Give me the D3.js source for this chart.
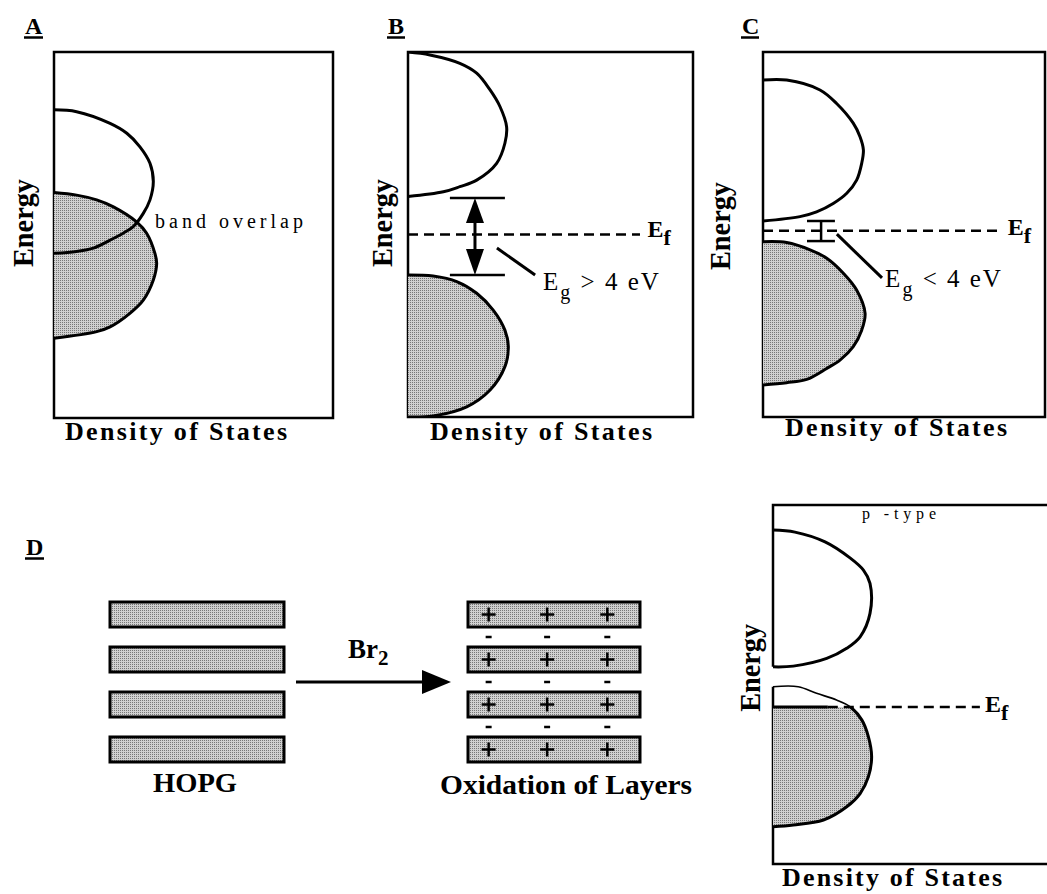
<!DOCTYPE html>
<html lang="en">
<head>
<meta charset="UTF-8" />
<script src="https://d3js.org/d3.v7.min.js"></script>
<title>Band structure sketches</title>
<style>
  body { margin: 0; background: #fff; }
  svg text { font-family: "Liberation Serif", "Times New Roman", serif; fill: #000; }
</style>
</head>
<body>
<svg width="1047" height="894"></svg>
<script>
// band outlines as [density of states (0..1 of frame width), energy (0..10 of frame height)]
const bandA_cond = [[0,8.42],[0.081,8.37],[0.201,8.05],[0.261,7.78],[0.308,7.41],[0.344,6.96],[0.356,6.46],[0.344,5.96],[0.320,5.59],[0.284,5.23],[0.248,5.05],[0.201,4.86],[0.141,4.64],[0.081,4.55],[0,4.50]];
const bandA_val = [[0,6.16],[0.081,6.09],[0.153,5.96],[0.213,5.77],[0.296,5.36],[0.332,5.05],[0.362,4.49],[0.368,4.22],[0.356,3.77],[0.320,3.22],[0.272,2.86],[0.201,2.49],[0.153,2.36],[0,2.18]];

const bandB_cond = [[0,10],[0.077,9.92],[0.182,9.69],[0.241,9.42],[0.288,8.96],[0.323,8.50],[0.346,7.95],[0.340,7.50],[0.311,6.95],[0.241,6.49],[0.182,6.31],[0.124,6.17],[0,6.04]];
const bandB_val = [[0,3.89],[0.088,3.86],[0.171,3.71],[0.241,3.39],[0.299,2.93],[0.340,2.38],[0.352,1.93],[0.340,1.38],[0.288,0.74],[0.206,0.28],[0.088,0.03],[0,0]];
const gapB = [3.89, 6.0];
const fermiB = 5.0;

const bandC_cond = [[0,9.23],[0.084,9.23],[0.202,8.96],[0.261,8.59],[0.320,8.05],[0.344,7.68],[0.356,7.32],[0.350,6.95],[0.332,6.49],[0.297,6.13],[0.249,5.85],[0.190,5.62],[0.131,5.49],[0,5.37]];
const bandC_val = [[0,4.80],[0.084,4.78],[0.167,4.58],[0.226,4.35],[0.285,3.94],[0.332,3.48],[0.362,2.84],[0.350,2.38],[0.320,1.93],[0.273,1.56],[0.226,1.33],[0.155,1.03],[0.084,0.94],[0,0.88]];
const gapC = [4.82, 5.37];
const fermiC = 5.1;

const bandD_cond = [[0,9.57],[0.08,9.51],[0.19,9.23],[0.281,8.77],[0.330,8.42],[0.354,8.04],[0.354,7.18],[0.318,6.51],[0.269,6.18],[0.196,5.89],[0.074,5.67],[0,5.65]];
const bandD_val = [[0,5.08],[0.092,5.08],[0.159,4.89],[0.232,4.70],[0.281,4.51],[0.324,4.13],[0.348,3.65],[0.360,3.07],[0.348,2.50],[0.318,2.02],[0.269,1.64],[0.184,1.26],[0.074,1.12],[0,1.07]];
const fermiD = 4.5;

const panelLetters = ["A", "B", "C", "D"];
const axisX = "Density of States";
const axisY = "Energy";
const gapLabels = ["> 4 eV", "< 4 eV"];
const layers = [0, 1, 2, 3];
const chargeSites = [0.12, 0.46, 0.81];

const svg = d3.select("svg");
const defs = svg.append("defs");

// stipple grey used for filled states
const pat = defs.append("pattern").attr("id", "stipple")
  .attr("width", 2).attr("height", 2).attr("patternUnits", "userSpaceOnUse");
pat.append("rect").attr("width", 2).attr("height", 2).attr("fill", "#d0d0d0");
pat.append("rect").attr("width", 1).attr("height", 1).attr("fill", "#777");

let clipId = 0;
function clipRect(x0, y0, w, h) {
  const id = "clip" + (clipId++);
  defs.append("clipPath").attr("id", id)
    .append("rect").attr("x", x0).attr("y", y0).attr("width", w).attr("height", h);
  return "url(#" + id + ")";
}

function makePanel(left, top, right, bottom) {
  const x = d3.scaleLinear().domain([0, 1]).range([left, right]);
  const y = d3.scaleLinear().domain([0, 10]).range([bottom, top]);
  const line = d3.line().x(d => x(d[0])).y(d => y(d[1])).curve(d3.curveCatmullRom.alpha(0.5));
  return { x, y, line };
}

function letter(t, lx, ly, w) {
  svg.append("text").attr("x", lx).attr("y", ly)
    .attr("font-size", 24).attr("font-weight", "bold").text(t);
  svg.append("line").attr("x1", lx - 1).attr("x2", lx + w).attr("y1", ly + 3.5).attr("y2", ly + 3.5)
    .attr("stroke", "#000").attr("stroke-width", 2.5);
}

function energyLabel(cx, cy) {
  svg.append("text").attr("transform", `translate(${cx},${cy}) rotate(-90)`)
    .attr("text-anchor", "middle").attr("dy", "0.35em")
    .attr("font-size", 29).attr("font-weight", "bold")
    .attr("textLength", 88).attr("lengthAdjust", "spacingAndGlyphs")
    .text(axisY);
}

function dosLabel(x0, base, w) {
  svg.append("text").attr("x", x0).attr("y", base)
    .attr("font-size", 26).attr("font-weight", "bold")
    .attr("textLength", w).attr("lengthAdjust", "spacing")
    .text(axisX);
}

function band(p, pts, filled, clip) {
  const g = svg.append("g").attr("clip-path", clip);
  g.append("path").attr("d", p.line(pts) + "Z")
    .attr("fill", filled ? "url(#stipple)" : "none").attr("stroke", "none");
  g.append("path").attr("d", p.line(pts))
    .attr("fill", "none").attr("stroke", "#000").attr("stroke-width", 3)
    .attr("stroke-linejoin", "round");
}

function frame(p) {
  const [l, r] = p.x.range(), [b, t] = p.y.range();
  svg.append("rect").attr("x", l).attr("y", t).attr("width", r - l).attr("height", b - t)
    .attr("fill", "none").attr("stroke", "#000").attr("stroke-width", 2.5);
  return clipRect(l, t, r - l, b - t);
}

function fermi(p, e, x1, lx, ly) {
  svg.append("line").attr("x1", p.x(0)).attr("x2", p.x(x1))
    .attr("y1", p.y(e)).attr("y2", p.y(e))
    .attr("stroke", "#000").attr("stroke-width", 2.5).attr("stroke-dasharray", "10,6");
  const t = svg.append("text").attr("x", p.x(lx)).attr("y", p.y(ly))
    .attr("font-size", 24).attr("font-weight", "bold");
  t.append("tspan").text("E");
  t.append("tspan").attr("dy", 8).attr("font-size", 22).text("f");
}

function gapText(p, sym, lx, ly) {
  const t = svg.append("text").attr("x", p.x(lx)).attr("y", p.y(ly))
    .attr("font-size", 25).attr("letter-spacing", 2);
  t.append("tspan").text("E");
  t.append("tspan").attr("dy", 9).attr("font-size", 20).text("g");
  t.append("tspan").attr("dy", -9).text(" " + sym);
}

function leader(p, a, b) {
  svg.append("line").attr("x1", p.x(a[0])).attr("y1", p.y(a[1]))
    .attr("x2", p.x(b[0])).attr("y2", p.y(b[1]))
    .attr("stroke", "#000").attr("stroke-width", 3);
}

// ---- Panel A: metal, overlapping bands
const pA = makePanel(54, 52, 333, 418);
const clipA = frame(pA);
band(pA, bandA_val, true, clipA);
band(pA, bandA_cond, false, clipA);
letter(panelLetters[0], 25, 34, 18);
energyLabel(23, 223);
dosLabel(65, 440, 222);
svg.append("text").attr("x", 155).attr("y", 228).attr("font-size", 20)
  .attr("textLength", 148).attr("lengthAdjust", "spacing").text("band overlap");

// ---- Panel B: insulator, wide gap
const pB = makePanel(408, 52, 693, 417);
const clipB = frame(pB);
band(pB, bandB_val, true, clipB);
band(pB, bandB_cond, false, clipB);
letter(panelLetters[1], 388, 34, 17);
energyLabel(382, 223);
dosLabel(430, 440, 222);
gapB.forEach(e => {
  svg.append("line").attr("x1", pB.x(0.147)).attr("x2", pB.x(0.34))
    .attr("y1", pB.y(e)).attr("y2", pB.y(e)).attr("stroke", "#000").attr("stroke-width", 2.5);
});
{
  const ax = pB.x(0.235), yTop = pB.y(gapB[1]), yBot = pB.y(gapB[0]);
  svg.append("line").attr("x1", ax).attr("x2", ax).attr("y1", yTop + 20).attr("y2", yBot - 20)
    .attr("stroke", "#000").attr("stroke-width", 3);
  svg.append("path").attr("d", `M${ax},${yTop}L${ax - 9},${yTop + 25}L${ax + 9},${yTop + 25}Z`);
  svg.append("path").attr("d", `M${ax},${yBot}L${ax - 9},${yBot - 26}L${ax + 9},${yBot - 26}Z`);
}
fermi(pB, fermiB, 0.814, 0.84, 4.93);
leader(pB, [0.312, 4.63], [0.446, 3.89]);
gapText(pB, gapLabels[0], 0.474, 3.48);

// ---- Panel C: semiconductor, narrow gap
const pC = makePanel(763, 52, 1045, 417);
const clipC = frame(pC);
band(pC, bandC_val, true, clipC);
band(pC, bandC_cond, false, clipC);
letter(panelLetters[2], 742, 34, 17);
energyLabel(720, 226);
dosLabel(785, 436, 222);
fermi(pC, fermiC, 0.848, 0.868, 4.99);
gapC.forEach(e => {
  svg.append("line").attr("x1", pC.x(0.156)).attr("x2", pC.x(0.255))
    .attr("y1", pC.y(e)).attr("y2", pC.y(e)).attr("stroke", "#000").attr("stroke-width", 2.5);
});
svg.append("line").attr("x1", pC.x(0.206)).attr("x2", pC.x(0.206))
  .attr("y1", pC.y(gapC[0])).attr("y2", pC.y(gapC[1])).attr("stroke", "#000").attr("stroke-width", 2.5);
leader(pC, [0.262, 5.01], [0.422, 3.81]);
gapText(pC, gapLabels[1], 0.433, 3.56);

// ---- Panel D (left): bromine intercalation of HOPG
letter(panelLetters[3], 26, 555, 18);
const yLayer = d3.scaleBand().domain(layers).range([602, 762]).paddingInner(0.444);
const hopgX = d3.scaleLinear().domain([0, 1]).range([110, 284]);
const oxX = d3.scaleLinear().domain([0, 1]).range([468, 640]);

[hopgX, oxX].forEach(sx => {
  svg.append("g").selectAll("rect").data(layers).join("rect")
    .attr("x", sx(0)).attr("y", d => yLayer(d))
    .attr("width", sx(1) - sx(0)).attr("height", yLayer.bandwidth())
    .attr("fill", "url(#stipple)").attr("stroke", "#000").attr("stroke-width", 3);
});

const plus = svg.append("g").attr("stroke", "#000").attr("stroke-width", 2.5);
layers.forEach(l => {
  chargeSites.forEach(s => {
    const cx = oxX(s), cy = yLayer(l) + yLayer.bandwidth() / 2;
    plus.append("line").attr("x1", cx - 7).attr("x2", cx + 7).attr("y1", cy).attr("y2", cy);
    plus.append("line").attr("x1", cx).attr("x2", cx).attr("y1", cy - 7).attr("y2", cy + 7);
    if (l < layers.length - 1) {
      const my = yLayer(l) + yLayer.bandwidth() + (yLayer.step() - yLayer.bandwidth()) / 2;
      plus.append("line").attr("x1", cx - 3).attr("x2", cx + 3).attr("y1", my).attr("y2", my);
    }
  });
});

svg.append("line").attr("x1", 296).attr("x2", 425).attr("y1", 682).attr("y2", 682)
  .attr("stroke", "#000").attr("stroke-width", 3);
svg.append("path").attr("d", "M422,670L451,682L422,694Z");
{
  const t = svg.append("text").attr("x", 348).attr("y", 658)
    .attr("font-size", 27).attr("font-weight", "bold");
  t.append("tspan").text("Br");
  t.append("tspan").attr("dy", 7).attr("font-size", 21).text("2");
}
svg.append("text").attr("x", 195).attr("y", 792).attr("text-anchor", "middle")
  .attr("font-size", 28).attr("font-weight", "bold")
  .attr("textLength", 84).attr("lengthAdjust", "spacingAndGlyphs").text("HOPG");
svg.append("text").attr("x", 440).attr("y", 794)
  .attr("font-size", 28).attr("font-weight", "bold")
  .attr("textLength", 252).attr("lengthAdjust", "spacingAndGlyphs").text("Oxidation of Layers");

// ---- Panel D (right): p-type band picture
const pD = makePanel(773, 515, 1047, 864);
{
  const l = pD.x(0), r = 1049, t = 505, b = pD.y(0);
  svg.append("path")
    .attr("d", `M${r},${t}H${l}V${pD.y(5.65)}M${l},${pD.y(5.08)}V${b}H${r}`)
    .attr("fill", "none").attr("stroke", "#000").attr("stroke-width", 2.5);
}
band(pD, bandD_cond, false, null);
{
  const yf = pD.y(fermiD);
  const below = clipRect(760, yf, 300, 200);
  const above = clipRect(760, 500, 300, yf - 500);
  const gb = svg.append("g").attr("clip-path", below);
  gb.append("path").attr("d", pD.line(bandD_val) + "Z").attr("fill", "url(#stipple)");
  gb.append("path").attr("d", pD.line(bandD_val)).attr("fill", "none")
    .attr("stroke", "#000").attr("stroke-width", 3);
  svg.append("g").attr("clip-path", above)
    .append("path").attr("d", pD.line(bandD_val)).attr("fill", "none")
    .attr("stroke", "#000").attr("stroke-width", 1.6);
  svg.append("line").attr("x1", pD.x(0)).attr("x2", pD.x(0.2)).attr("y1", yf).attr("y2", yf)
    .attr("stroke", "#000").attr("stroke-width", 3);
  svg.append("line").attr("x1", pD.x(0.2)).attr("x2", pD.x(0.755)).attr("y1", yf).attr("y2", yf)
    .attr("stroke", "#000").attr("stroke-width", 2.5).attr("stroke-dasharray", "10,6");
  const t = svg.append("text").attr("x", pD.x(0.774)).attr("y", pD.y(4.36))
    .attr("font-size", 24).attr("font-weight", "bold");
  t.append("tspan").text("E");
  t.append("tspan").attr("dy", 8).attr("font-size", 22).text("f");
}
svg.append("text").attr("x", pD.x(0.325)).attr("y", pD.y(9.89)).attr("font-size", 16)
  .attr("textLength", 74).attr("lengthAdjust", "spacing").text("p -type");
energyLabel(750, pD.y(5.62));
dosLabel(782, 886, 220);
</script>
</body>
</html>
